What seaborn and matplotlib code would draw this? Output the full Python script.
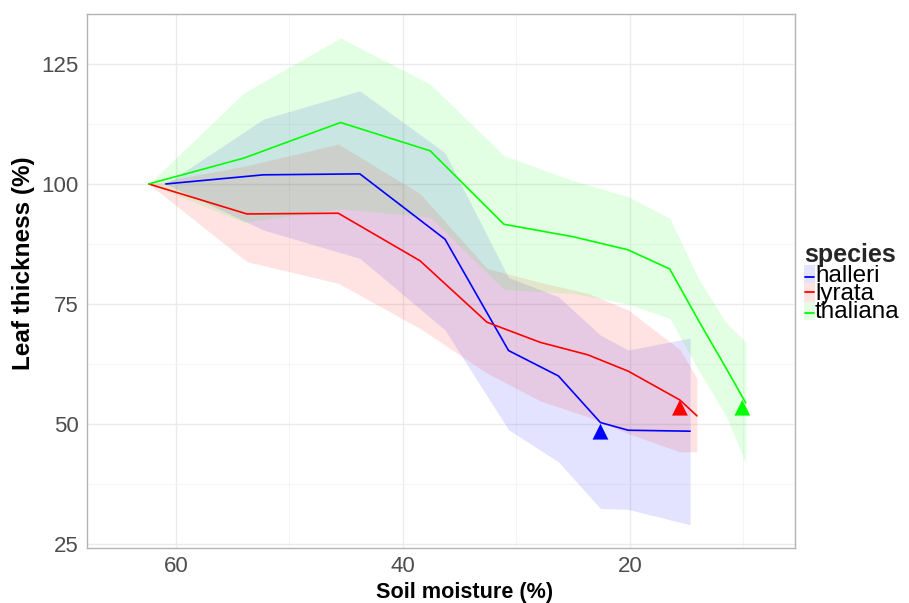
import numpy as np
import pandas as pd
import matplotlib
matplotlib.use("Agg")
import matplotlib.pyplot as plt
import seaborn as sns
from matplotlib.patches import Rectangle
from matplotlib.lines import Line2D

# ---- data ----
species_names = ["halleri", "lyrata", "thaliana"]
species_colors = ["#0000ff", "#ff0000", "#00ff00"]

halleri_x = [60.9, 52.3, 43.8, 36.3, 30.7, 26.3, 22.6, 20.15, 14.7]
halleri_mean = [100, 101.9, 102.1, 88.5, 65.3, 60.0, 50.3, 48.7, 48.5]
halleri_hi = [100, 113.5, 119.4, 106.5, 80.5, 76.5, 68.5, 65.4, 67.9]
halleri_lo = [100, 90.4, 84.5, 69.6, 48.8, 42.1, 32.4, 32.2, 29.0]

lyrata_x = [62.4, 53.75, 45.7, 38.5, 32.6, 27.9, 23.7, 20.15, 15.6, 14.1]
lyrata_mean = [100, 93.75, 93.9, 84.0, 71.2, 67.0, 64.4, 61.0, 55.0, 51.7]
lyrata_hi = [100, 103.8, 108.3, 98.0, 82.4, 79.5, 77.2, 73.75, 65.5, 59.5]
lyrata_lo = [100, 83.8, 79.3, 69.9, 60.6, 54.8, 51.5, 48.0, 44.2, 44.2]

thaliana_x = [62.4, 54.0, 45.5, 37.6, 31.1, 25.0, 20.2, 16.5, 13.9, 11.5, 9.8]
thaliana_mean = [100, 105.4, 112.8, 106.9, 91.6, 89.0, 86.3, 82.3, 71.3, 61.5, 54.4]
thaliana_hi = [100, 119.0, 130.4, 120.8, 105.9, 100.7, 97.4, 92.9, 80.0, 71.0, 67.1]
thaliana_lo = [100, 92.0, 94.8, 93.1, 78.0, 77.2, 75.0, 72.0, 61.0, 51.5, 41.8]

marker_x = [22.6, 15.6, 10.1]
marker_y = [48.4, 53.4, 53.4]

x_ticks = [60, 40, 20]
y_ticks = [25, 50, 75, 100, 125]

# ---- build tables ----
frames = []
for name, xs, m, hi, lo in [
    ("halleri", halleri_x, halleri_mean, halleri_hi, halleri_lo),
    ("lyrata", lyrata_x, lyrata_mean, lyrata_hi, lyrata_lo),
    ("thaliana", thaliana_x, thaliana_mean, thaliana_hi, thaliana_lo),
]:
    frames.append(pd.DataFrame({"species": name, "moisture": xs, "thickness": m,
                                "hi": hi, "lo": lo}))
df = pd.concat(frames, ignore_index=True)
markers_df = pd.DataFrame({"species": species_names, "moisture": marker_x,
                           "thickness": marker_y})
palette = dict(zip(species_names, species_colors))

# ---- figure ----
sns.set_theme(style="whitegrid")
plt.rcParams["font.family"] = ["Liberation Sans", "DejaVu Sans"]

fig = plt.figure(figsize=(9.09, 6.03), dpi=100)
ax = fig.add_axes([87 / 909, 1 - 548 / 603, (795 - 87) / 909, (548 - 14) / 603])

for name in species_names:
    sub = df[df["species"] == name]
    ax.fill_between(sub["moisture"], sub["lo"], sub["hi"], color=palette[name],
                    alpha=0.11, linewidth=0, zorder=2)

sns.lineplot(data=df, x="moisture", y="thickness", hue="species", palette=palette,
             sort=False, estimator=None, linewidth=1.2, legend=False, ax=ax, zorder=3)
sns.scatterplot(data=markers_df, x="moisture", y="thickness", hue="species",
                palette=palette, marker="^", s=130, linewidth=0, legend=False,
                ax=ax, zorder=4)

ax.set_xlim(67.84, 5.46)
ax.set_ylim(24.17, 135.4)
ax.set_xticks(x_ticks)
ax.set_yticks(y_ticks)
ax.set_xticks([50, 30, 10], minor=True)
ax.set_yticks([37.5, 62.5, 87.5, 112.5], minor=True)
ax.grid(which="major", color="#ebebeb", linewidth=1.0)
ax.grid(which="minor", color="#f4f4f4", linewidth=0.6)
ax.set_axisbelow(True)
for s in ax.spines.values():
    s.set_color("#b3b3b3")
    s.set_linewidth(1.0)
ax.tick_params(axis="both", which="major", length=4, color="#b3b3b3",
               labelsize=16, labelcolor="#4d4d4d", pad=2, direction="out")
ax.tick_params(axis="both", which="minor", length=0)
ax.set_xlabel("")
ax.set_ylabel("")

# axis titles (positioned as in the reference)
fig.text(465 / 909, 1 - 598 / 603, "Soil moisture (%)", fontsize=15.6,
         fontweight="bold", color="black", ha="center", va="baseline")
fig.text(23.5 / 909, 1 - 263 / 603, "Leaf thickness (%)", fontsize=17.5,
         fontweight="bold", color="black", ha="center", va="center", rotation=90)

# ---- legend (ggplot-like) ----
fig.text(804 / 909, 1 - 262 / 603, "species", fontsize=18, fontweight="bold",
         ha="left", va="baseline")
key_line_y = [277, 292, 313]
key_rect = [(265, 283), (283, 302), (302, 320)]
text_base = [282, 300, 318]
for name, ly, (r0, r1), tb in zip(species_names, key_line_y, key_rect, text_base):
    fig.patches.append(Rectangle((804 / 909, 1 - r1 / 603), 11 / 909, (r1 - r0) / 603,
                                 transform=fig.transFigure, facecolor=palette[name],
                                 alpha=0.11, edgecolor="none"))
    fig.lines.append(Line2D([805 / 909, 814 / 909], [1 - ly / 603, 1 - ly / 603],
                            transform=fig.transFigure, color=palette[name], linewidth=1.3))
    fig.text(815 / 909, 1 - tb / 603, name, fontsize=17.5, ha="left", va="baseline",
             color="black")

fig.savefig("out.png", dpi=100)
